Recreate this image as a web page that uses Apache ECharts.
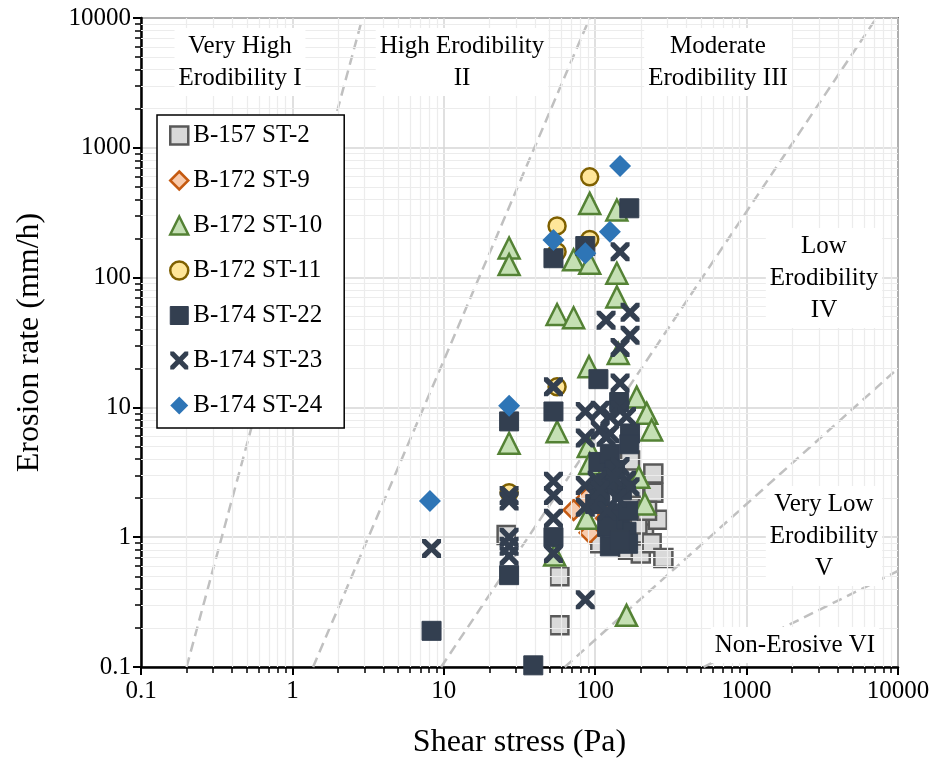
<!DOCTYPE html>
<html><head><meta charset="utf-8">
<script src="https://cdn.jsdelivr.net/npm/echarts@6/dist/echarts.min.js"></script>
<style>html,body{margin:0;padding:0;background:#fff}#c{width:945px;height:771px}</style>
</head><body><div id="c"></div>
<script>
// ---------- data ----------
const xTickLabels = ['0.1', '1', '10', '100', '1000', '10000'];
const yTickLabels = ['0.1', '1', '10', '100', '1000', '10000'];
const minorVals = [0.2,0.3,0.4,0.5,0.6,0.7,0.8,0.9,2,3,4,5,6,7,8,9,20,30,40,50,60,70,80,90,200,300,400,500,600,700,800,900,2000,3000,4000,5000,6000,7000,8000,9000];

const seriesNames = ['B-157 ST-2','B-172 ST-9','B-172 ST-10','B-172 ST-11','B-174 ST-22','B-174 ST-23','B-174 ST-24'];

const st2 = [[26,1.04],[58,0.50],[58,0.21],[108,0.9],[165,0.8],[165,1.0],[170,3.9],[170,1.7],[200,0.75],[210,1.07],[236,0.9],[242,3.1],[242,2.2],[259,1.36],[282,0.69],[190,1.25],[150,1.5],[220,1.6],[130,1.1],[180,2.4]];
const st9 = [[72,1.62],[92,1.08],[88,2.0],[118,1.4],[105,1.8]];
const st10 = [[27,169],[27,126],[56,52],[72,49],[92,373],[139,332],[72,137],[92,129],[139,108],[139,71],[142,26],[91,20.6],[56,6.5],[27,5.3],[54,0.73],[161,0.25],[213,1.8],[188,12],[219,9],[236,6.7],[90,5.0],[92,3.7],[194,2.9],[88,1.4]];
const st11 = [[92,598],[56,250],[92,197],[56,158],[56,14.4],[27,2.2]];
const st22 = [[8.3,0.19],[39,0.103],[27,0.51],[53,1.0],[27,7.8],[53,9.3],[53,141],[86,175],[168,342],[105,16.5],[144,11],[170,6.3],[168,5.2],[105,3.8],[125,4.4],[108,2.05],[146,1.53],[161,1.1],[125,0.85],[165,0.89],[132,1.36],[100,1.8],[150,2.3],[120,1.2],[145,0.95],[165,1.6],[118,2.6],[135,3.3]];
const st23 = [[8.3,0.82],[27,2.1],[27,1.9],[27,1.0],[27,0.85],[27,0.72],[53,14.4],[53,2.7],[53,2.1],[53,1.4],[53,0.75],[86,9.3],[86,5.8],[86,2.5],[86,1.7],[86,0.33],[146,158],[118,47],[170,54],[170,36],[146,29],[146,15.4],[146,9.5],[125,8.5],[161,8.5],[125,6.3],[108,9.5],[108,6.7],[118,5.9],[146,3.5],[161,2.75],[132,2.9],[103,2.75],[170,2.45],[108,2.3],[140,2.0],[120,1.6]];
const st24 = [[8.1,1.9],[27,10.3],[53,195],[86,154],[125,226],[146,724]];

// boundary lines between erodibility categories (endpoints)
const lineI_II = [[0.2,0.1],[2.9,10000]];
const lineII_III = [[1.37,0.1],[92,10000]];
const lineIII_IV = [[9.6,0.1],[7200,10000]];
const lineIV_V = [[63,0.1],[10000,20]];
const lineV_VI = [[520,0.1],[10000,0.55]];

const zoneLabels = ['Very High\nErodibility I','High Erodibility\nII','Moderate\nErodibility III','Low\nErodibility\nIV','Very Low\nErodibility\nV','Non-Erosive VI'];

// ---------- chart ----------
const FONT = '"Liberation Serif", "Times New Roman", serif';
const chart = echarts.init(document.getElementById('c'), null, {renderer:'canvas'});
const xPath = 'path://M0,0L4,0L10,6L16,0L20,0L20,4L14,10L20,16L20,20L16,20L10,14L4,20L0,20L0,16L6,10L0,4Z';

const styles = [
  {symbol:'rect', size:18, item:{color:'#d9d9d9', borderColor:'#595959', borderWidth:2.5, opacity:1}},
  {symbol:'diamond', size:20, item:{color:'#f8cbad', borderColor:'#c55a11', borderWidth:2.5, opacity:1}},
  {symbol:'triangle', size:21, item:{color:'#c5e0b4', borderColor:'#548235', borderWidth:2.5, opacity:1}},
  {symbol:'circle', size:17, item:{color:'#ffe699', borderColor:'#7f6000', borderWidth:2.5, opacity:1}},
  {symbol:'rect', size:19, item:{color:'#333f50', borderColor:'#333f50', borderWidth:1, opacity:1}},
  {symbol:xPath, size:19, item:{color:'#333f50', borderWidth:0, opacity:1}},
  {symbol:'diamond', size:22, item:{color:'#2e75b6', borderWidth:0, opacity:1}}
];
const seriesData = [st2, st9, st10, st11, st22, st23, st24];

function dashed(data){
  return {type:'line', data:data, symbol:'none', silent:true, z:1,
    lineStyle:{color:'#c0c0c0', width:2.5, type:[10,6]}, animation:false};
}
function logAxisBase(isX){
  return {
    type:'log', logBase:10, min:0.1, max:10000,
    axisLine:{show:true, onZero:false, lineStyle:{color:'#000', width:2.5}},
    axisTick:{show:true, inside:false, length:8, lineStyle:{color:'#000', width:2}},
    axisLabel:{fontFamily:FONT, fontSize:25, color:'#000', margin: isX ? 12 : 10,
      formatter:(v, i)=> (isX ? xTickLabels : yTickLabels)[i]},
    splitLine:{show:true, lineStyle:{color:'#d6d6d6', width:1.5}},
    minorTick:{show:false}, minorSplitLine:{show:false}
  };
}
function minorAxis(isX){
  return {
    type:'log', logBase:10, min:0.1, max:10000, position: isX ? 'bottom' : 'left',
    axisLine:{show:false}, axisLabel:{show:false}, splitLine:{show:false},
    axisTick:{show:true, inside:false, length:6, customValues:minorVals, lineStyle:{color:'#000', width:1.5}}
  };
}

const xMain = Object.assign(logAxisBase(true), {name:'Shear stress (Pa)', nameLocation:'middle', nameGap:60,
  nameTextStyle:{fontFamily:FONT, fontSize:32, color:'#000'}});
const yMain = Object.assign(logAxisBase(false), {name:'Erosion rate (mm/h)', nameLocation:'middle', nameGap:95, nameRotate:90,
  nameTextStyle:{fontFamily:FONT, fontSize:32, color:'#000'}});

const minorGridSeries = {
  type:'line', data:[], silent:true, z:0, symbol:'none',
  markLine:{silent:true, symbol:'none', label:{show:false}, animation:false,
    lineStyle:{color:'#ececec', width:1.2, type:'solid'},
    data: minorVals.map(v=>({xAxis:v})).concat(minorVals.map(v=>({yAxis:v})))}
};

const scatterSeries = seriesNames.map((n, i)=>({
  type:'scatter', name:n, data:seriesData[i], symbol:styles[i].symbol, symbolSize:styles[i].size, z:3+i,
  itemStyle:styles[i].item, emphasis:{disabled:true}, animation:false
}));

function zoneText(t, x, y){
  return {type:'text', x:x, y:y, z:10, style:{text:t, align:'center', verticalAlign:'middle',
    font:'25px '+FONT, fill:'#000', lineHeight:32, backgroundColor:'#fff', padding:[2,4]}};
}

const option = {
  backgroundColor:'#fff',
  animation:false,
  grid:{left:141, right:47, top:18, bottom:104, show:true, borderColor:'#000', borderWidth:1.5, backgroundColor:'transparent'},
  xAxis:[xMain, minorAxis(true)],
  yAxis:[yMain, minorAxis(false)],
  legend:{
    data: seriesNames.map((n, i)=>({name:n, icon:styles[i].symbol, itemStyle:styles[i].item})),
    orient:'vertical', left:157, top:115, z:20,
    backgroundColor:'#fff', borderColor:'#000', borderWidth:1.5, borderRadius:0,
    padding:[8,22,10,12], itemGap:20, itemWidth:18, itemHeight:18,
    lineStyle:{width:0, opacity:0},
    textStyle:{fontFamily:FONT, fontSize:25, color:'#000'}, selectedMode:false
  },
  graphic:[
    zoneText(zoneLabels[0], 240, 62),
    zoneText(zoneLabels[1], 462, 62),
    zoneText(zoneLabels[2], 718, 62),
    zoneText(zoneLabels[3], 824, 278),
    zoneText(zoneLabels[4], 824, 536),
    zoneText(zoneLabels[5], 795, 645)
  ],
  series:[
    minorGridSeries,
    dashed(lineI_II), dashed(lineII_III), dashed(lineIII_IV), dashed(lineIV_V), dashed(lineV_VI)
  ].concat(scatterSeries)
};
chart.setOption(option);
</script>
</body></html>
